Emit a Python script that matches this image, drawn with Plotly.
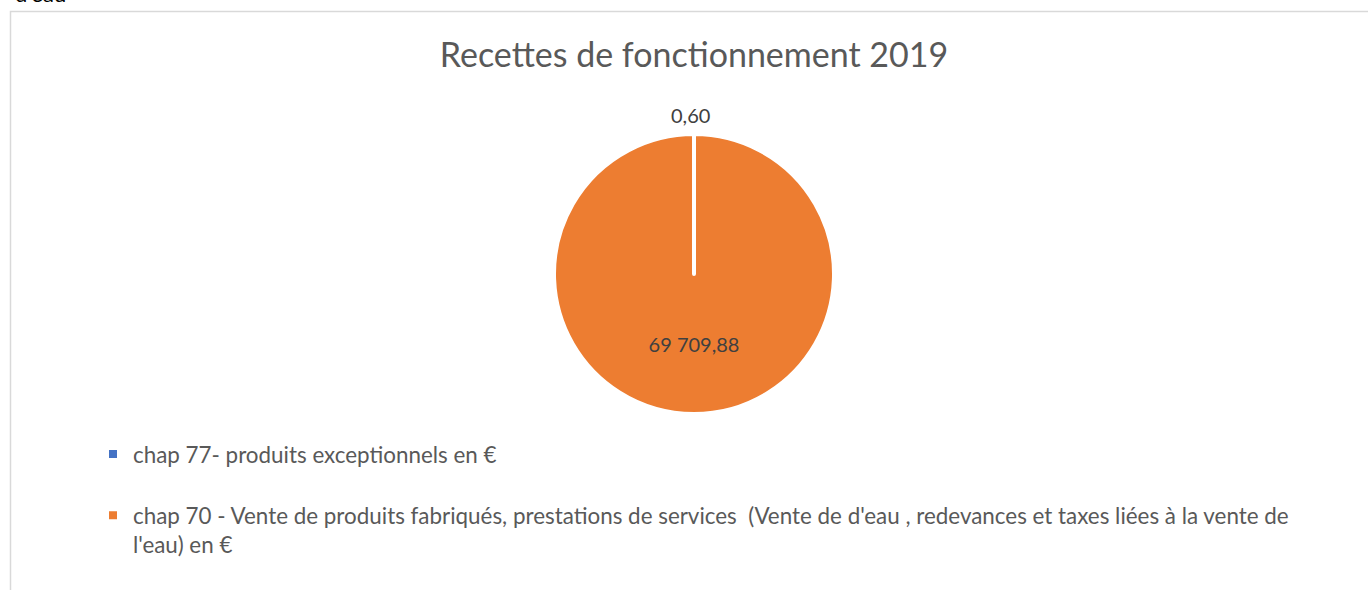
import plotly.graph_objects as go

labels = [
    "chap 77- produits exceptionnels en €<br> ",
    "chap 70 - Vente de produits fabriqués, prestations de services \u00a0(Vente de d'eau , redevances et taxes liées à la vente de<br>l'eau) en €",
]
values = [0.60, 69709.88]
colors = ["#4472C4", "#ED7D31"]
text_positions = ["none", "inside"]
title_text = "Recettes de fonctionnement 2019"


def fr_number(v):
    s = f"{v:,.2f}"
    return s.replace(",", " ").replace(".", ",")


W, H = 1368, 590
FONT = "Lato"

fig = go.Figure()
fig.add_trace(go.Pie(
    labels=labels,
    values=values,
    sort=False,
    direction="clockwise",
    rotation=0,
    marker=dict(colors=colors, line=dict(color="white", width=4)),
    texttemplate="%{value:,.2f}",
    textposition=text_positions,
    textfont=dict(family=FONT, size=20, color="#404040"),
    insidetextorientation="horizontal",
    hoverinfo="label+value",
    domain=dict(x=[554 / W, 834 / W], y=[(H - 414) / H, (H - 134) / H]),
    showlegend=True,
))

fig.update_layout(
    width=W, height=H,
    margin=dict(l=0, r=0, t=0, b=0),
    paper_bgcolor="white",
    separators=", ",
    title=dict(text=title_text, x=694 / W, xanchor="center", y=1 - 55 / H, yanchor="middle",
               font=dict(family=FONT, size=34, color="#595959")),
    legend=dict(x=93 / W, xanchor="left", y=1 - 433 / H, yanchor="top", orientation="v",
                font=dict(family=FONT, size=22.4, color="#595959"), valign="top",
                itemwidth=30, bgcolor="rgba(0,0,0,0)"),
    shapes=[dict(type="rect", xref="paper", yref="paper", x0=10.5 / W, x1=1.02, y0=-0.02, y1=1 - 11.5 / H,
                 line=dict(color="#D9D9D9", width=1.5), fillcolor="rgba(0,0,0,0)", layer="below")],
    annotations=[
        dict(text="d'eau", xref="paper", yref="paper", x=13 / W, y=1 - 9 / H, xanchor="left",
             yanchor="bottom", showarrow=False, font=dict(family=FONT, size=22, color="black")),
        dict(text=fr_number(values[0]), xref="paper", yref="paper", x=690 / W, y=1 - 115 / H,
             xanchor="center", yanchor="middle", showarrow=False,
             font=dict(family=FONT, size=20, color="#404040")),
    ],
)

fig.write_html("out.html", post_script="document.body.style.margin='0';",
               config={"displayModeBar": False})
